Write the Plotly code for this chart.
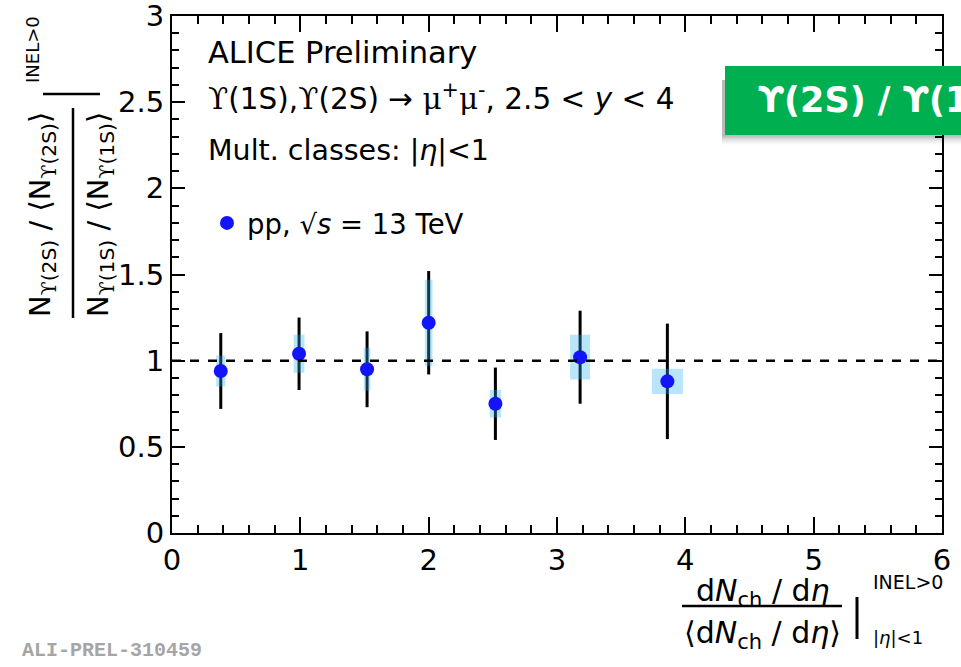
import plotly.graph_objects as go

# Upsilon(2S)/Upsilon(1S) self-normalised yield ratio vs. self-normalised multiplicity
mult = [0.38, 0.99, 1.52, 2.00, 2.52, 3.18, 3.86]
mult_halfwidth = [0.036, 0.042, 0.026, 0.030, 0.044, 0.078, 0.121]
ratio = [0.94, 1.04, 0.95, 1.22, 0.75, 1.02, 0.88]
stat_err = [0.22, 0.21, 0.22, 0.30, 0.21, 0.27, 0.335]
syst_err = [0.09, 0.11, 0.125, 0.25, 0.08, 0.13, 0.073]

x_tickvals = [0, 1, 2, 3, 4, 5, 6]
x_ticktext = ["0", "1", "2", "3", "4", "5", "6"]
y_tickvals = [0, 0.5, 1, 1.5, 2, 2.5, 3]
y_ticktext = ["0", "0.5", "1", "1.5", "2", "2.5", "3"]
x_range = [0, 6]
y_range = [0, 3]
x_minor_step = 0.2
y_minor_step = 0.1
unity = 1.0

W, H = 961, 667
L, R, T, B = 172, 19, 16, 134
FONT = "DejaVu Sans, Liberation Sans, Arial, sans-serif"
SERIF = "DejaVu Serif, Liberation Serif, serif"


def px(x):
    return (x - L) / (W - L - R)


def py(y):
    return (H - B - y) / (H - T - B)


ups = f'<span style="font-family:{SERIF}">ϒ</span>'
mu = f'<span style="font-family:{SERIF}">μ</span>'

fig = go.Figure()

# statistical uncertainties
fig.add_trace(go.Scatter(
    x=mult, y=ratio, mode="markers",
    marker=dict(size=1, color="rgba(0,0,0,0)"),
    error_y=dict(type="data", array=stat_err, symmetric=True,
                 color="black", thickness=3, width=0),
    showlegend=False, hoverinfo="skip",
))

# systematic uncertainty boxes
bx, by = [], []
for x, hw, y, s in zip(mult, mult_halfwidth, ratio, syst_err):
    bx += [x - hw, x + hw, x + hw, x - hw, x - hw, None]
    by += [y - s, y - s, y + s, y + s, y - s, None]
fig.add_trace(go.Scatter(
    x=bx, y=by, mode="lines", fill="toself",
    fillcolor="rgba(40,175,240,0.33)", line=dict(width=0),
    showlegend=False, hoverinfo="skip",
))

# central values
fig.add_trace(go.Scatter(
    x=mult, y=ratio, mode="markers",
    marker=dict(size=14, color="rgb(20,20,250)"),
    name="pp, √<i>s</i> = 13 TeV",
))

# empty trace that keeps the minor-tick overlay axes alive
fig.add_trace(go.Scatter(x=[], y=[], xaxis="x2", yaxis="y2",
                         showlegend=False, hoverinfo="skip"))

axis_common = dict(
    showline=True, linewidth=2, linecolor="black", mirror="allticks",
    ticks="inside", tickwidth=2, tickcolor="black",
    showgrid=False, zeroline=False, automargin=False, ticklabeloverflow="allow",
    tickfont=dict(family=FONT, size=29, color="black"),
)
fig.update_layout(
    xaxis=dict(range=x_range, tickmode="array", tickvals=x_tickvals,
               ticktext=x_ticktext, ticklen=16, **axis_common),
    yaxis=dict(range=y_range, tickmode="array", tickvals=y_tickvals,
               ticktext=y_ticktext, ticklen=13, **axis_common),
    # minor ticks on all four sides
    xaxis2=dict(range=x_range, overlaying="x", anchor="y2", side="bottom",
                tickmode="linear", tick0=0, dtick=x_minor_step, ticklen=8,
                showticklabels=False, **{k: v for k, v in axis_common.items()
                                         if k != "tickfont"}),
    yaxis2=dict(range=y_range, overlaying="y", anchor="x2", side="left",
                tickmode="linear", tick0=0, dtick=y_minor_step, ticklen=7,
                showticklabels=False, **{k: v for k, v in axis_common.items()
                                         if k != "tickfont"}),
)

shapes = [
    # reference line at unity
    dict(type="line", xref="x", yref="y", x0=x_range[0], x1=x_range[1],
         y0=unity, y1=unity,
         line=dict(color="black", width=2.5, dash="dash"), layer="above"),
    # y title: fraction bar and evaluation bar
    dict(type="line", xref="paper", yref="paper", x0=px(73), x1=px(73),
         y0=py(108), y1=py(318), line=dict(color="black", width=2.5)),
    dict(type="line", xref="paper", yref="paper", x0=px(43), x1=px(100),
         y0=py(94), y1=py(94), line=dict(color="black", width=2.5)),
    # x title: fraction bar and evaluation bar
    dict(type="line", xref="paper", yref="paper", x0=px(682), x1=px(842),
         y0=py(606), y1=py(606), line=dict(color="black", width=2.5)),
    dict(type="line", xref="paper", yref="paper", x0=px(857), x1=px(857),
         y0=py(597), y1=py(639), line=dict(color="black", width=3)),
]
# badge drop shadow
for k in range(1, 11):
    shapes.append(dict(type="rect", xref="paper", yref="paper",
                       x0=px(722), x1=px(980), y0=py(135 + k), y1=py(80),
                       fillcolor=f"rgba(0,0,0,{0.05 - 0.004 * k:.3f})",
                       line=dict(width=0), layer="above"))
shapes.append(dict(type="rect", xref="paper", yref="paper",
                   x0=px(725), x1=px(980), y0=py(135), y1=py(66),
                   fillcolor="rgb(0,176,80)", line=dict(width=0), layer="above"))
fig.update_layout(shapes=shapes)

ann = []


def note(text, x, y, size, xanchor="left", angle=0, color="black", family=FONT, weight=None):
    f = dict(family=family, size=size, color=color)
    if weight:
        f["weight"] = weight
    ann.append(dict(text=text, x=px(x), y=py(y), xref="paper", yref="paper",
                    xanchor=xanchor, yanchor="middle", showarrow=False,
                    textangle=angle, font=f, borderpad=0))


note("ALICE Preliminary", 207, 52, 30.5)
note(f"{ups}(1S),{ups}(2S) → {mu}<sup>+</sup>{mu}<sup>-</sup>, 2.5 &lt; <i>y</i> &lt; 4",
     207, 97, 29.5)
note("Mult. classes: |<i>η</i>|&lt;1", 207, 150, 28.5)

# y-axis title
note(f"N<sub>{ups}(2S)</sub> / ⟨N<sub>{ups}(2S)</sub>⟩", 42, 215, 29,
     xanchor="center", angle=-90)
note(f"N<sub>{ups}(1S)</sub> / ⟨N<sub>{ups}(1S)</sub>⟩", 100, 215, 29,
     xanchor="center", angle=-90)
note("INEL&gt;0", 32, 50, 18, xanchor="center", angle=-90)

# x-axis title
note("d<i>N</i><sub>ch</sub> / d<i>η</i>", 763, 592, 30, xanchor="center")
note("⟨d<i>N</i><sub>ch</sub> / d<i>η</i>⟩", 762, 634, 30, xanchor="center")
note("INEL&gt;0", 872, 582, 19)
note("|<i>η</i>|&lt;1", 872, 637, 18)

# preliminary tag
note("ALI-PREL-310459", 21, 650, 20, family="Liberation Mono, Courier New, monospace",
     color="rgb(165,165,165)", weight="bold")

# badge label
note("ϒ(2S) / ϒ(1S)", 757, 100, 35, color="white",
     family="DejaVu Sans, sans-serif", weight="bold")

fig.update_layout(
    annotations=ann,
    width=W, height=H,
    margin=dict(l=L, r=R, t=T, b=B, pad=0),
    paper_bgcolor="white", plot_bgcolor="white",
    font=dict(family=FONT, color="black"),
    showlegend=True,
    legend=dict(x=px(207), y=py(223), xanchor="left", yanchor="middle",
                bgcolor="rgba(0,0,0,0)", borderwidth=0,
                font=dict(family=FONT, size=27.5, color="black"),
                itemwidth=30),
)

fig.write_html("out.html")
